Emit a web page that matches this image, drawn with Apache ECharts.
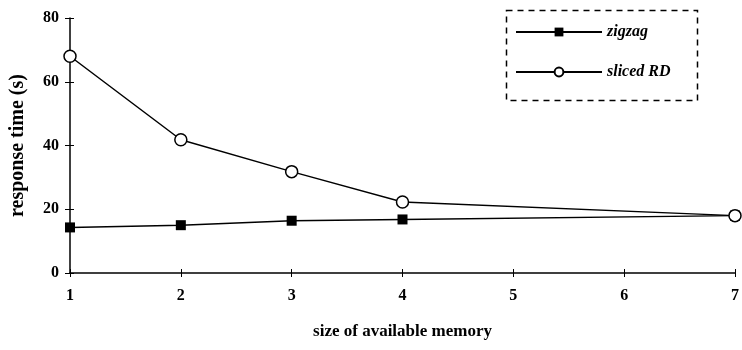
<!DOCTYPE html>
<html><head><meta charset="utf-8">
<script src="https://cdn.jsdelivr.net/npm/echarts@6/dist/echarts.min.js"></script>
<style>html,body{margin:0;padding:0;background:#fff}#c{width:742px;height:350px}</style>
</head><body><div id="c"></div>
<script>
const memorySizes = [1, 2, 3, 4, 7];
const zigzag = [14.3, 15, 16.4, 16.8, 18];
const slicedRD = [68, 41.8, 31.8, 22.3, 18];
const yTicks = [0, 20, 40, 60, 80];
const xTicks = [1, 2, 3, 4, 5, 6, 7];

const serif = '"Liberation Serif", "DejaVu Serif", serif';
const chart = echarts.init(document.getElementById('c'));
const axisCommon = {
  axisLine: {show: true, lineStyle: {color: '#000', width: 1.5}},
  splitLine: {show: false}
};
chart.setOption({
  animation: false,
  backgroundColor: '#fff',
  grid: {left: 64, right: 1, top: 18, bottom: 77, containLabel: false},
  legend: {
    orient: 'vertical', left: 510, top: 19, itemWidth: 86, itemHeight: 11, itemGap: 24,
    textStyle: {fontFamily: serif, fontStyle: 'italic', fontWeight: 'bold', fontSize: 16, color: '#000'},
    data: ['zigzag', 'sliced RD']
  },
  graphic: [{
    type: 'rect', left: 504, top: 8,
    shape: {width: 191, height: 90},
    style: {fill: 'none', stroke: '#000', lineWidth: 1.5, lineDash: [6, 5]}
  }],
  xAxis: [{
    type: 'value', min: 1, max: 7, interval: 1,
    ...axisCommon,
    axisTick: {show: true, inside: false, length: 4, lineStyle: {color: '#000'}},
    axisLabel: {fontFamily: serif, fontWeight: 'bold', fontSize: 16, color: '#000', margin: 15,
      formatter: v => xTicks.includes(v) ? String(v) : ''},
    name: 'size of available memory', nameLocation: 'middle', nameGap: 50,
    nameTextStyle: {fontFamily: serif, fontWeight: 'bold', fontSize: 17, color: '#000'}
  }, {
    type: 'value', min: 1, max: 7, interval: 1, position: 'bottom',
    axisLine: {show: false}, splitLine: {show: false}, axisLabel: {show: false},
    axisTick: {show: true, inside: true, length: 4, lineStyle: {color: '#000'}}
  }],
  yAxis: [{
    type: 'value', min: 0, max: 80, interval: 20,
    ...axisCommon,
    axisTick: {show: true, inside: false, length: 5, lineStyle: {color: '#000'}},
    axisLabel: {fontFamily: serif, fontWeight: 'bold', fontSize: 16, color: '#000', margin: 11,
      formatter: v => yTicks.includes(v) ? String(v) : ''},
    name: 'response time (s)', nameLocation: 'middle', nameGap: 42, nameRotate: 90,
    nameTextStyle: {fontFamily: serif, fontWeight: 'bold', fontSize: 20, color: '#000'}
  }, {
    type: 'value', min: 0, max: 80, interval: 20, position: 'left',
    axisLine: {show: false}, splitLine: {show: false}, axisLabel: {show: false},
    axisTick: {show: true, inside: true, length: 4, lineStyle: {color: '#000'}}
  }],
  series: [{
    name: 'zigzag', type: 'line', symbol: 'rect', symbolSize: 10,
    itemStyle: {color: '#000'}, lineStyle: {color: '#000', width: 1.5},
    data: memorySizes.map((x, i) => [x, zigzag[i]])
  }, {
    name: 'sliced RD', type: 'line', symbol: 'circle', symbolSize: 12, showAllSymbol: true,
    itemStyle: {color: '#fff', borderColor: '#000', borderWidth: 1.5}, lineStyle: {color: '#000', width: 1.5},
    data: memorySizes.map((x, i) => [x, slicedRD[i]])
  }]
});
</script></body></html>
